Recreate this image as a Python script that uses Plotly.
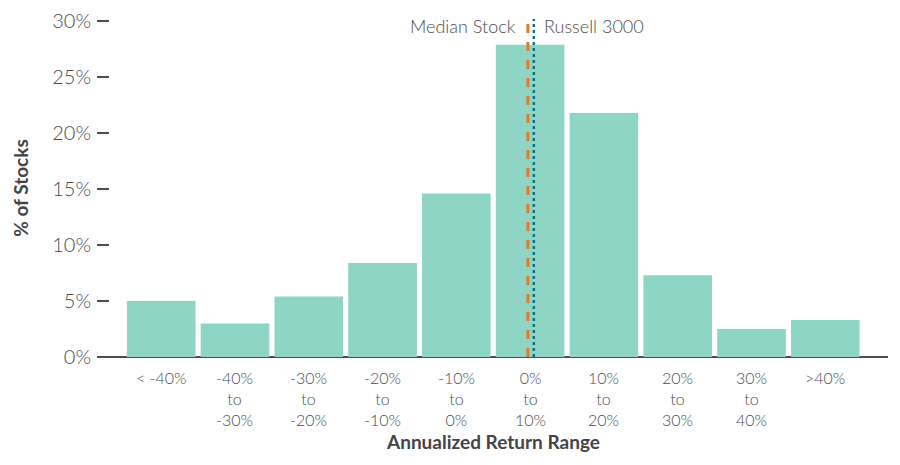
import plotly.graph_objects as go

# return buckets and share of stocks in each (%)
categories = ["< -40%", "-40%<br>to<br>-30%", "-30%<br>to<br>-20%", "-20%<br>to<br>-10%",
              "-10%<br>to<br>0%", "0%<br>to<br>10%", "10%<br>to<br>20%", "20%<br>to<br>30%",
              "30%<br>to<br>40%", ">40%"]
pct_stocks = [5.0, 3.0, 5.4, 8.4, 14.6, 27.9, 21.8, 7.3, 2.5, 3.3]

# marker positions on the category axis
median_stock_x = 4.97
russell_x = 5.05

y_ticks = [0, 5, 10, 15, 20, 25, 30]
y_ticktext = [f"{v}%" for v in y_ticks]

grey = "#4b4b4d"
dark = "#444446"
font_family = "Lato"

fig = go.Figure()

fig.add_trace(go.Bar(
    x=list(range(len(categories))),
    y=pct_stocks,
    marker_color="#8fd5c6",
    marker_line_width=0,
    hoverinfo="y"
))

# median stock and index lines
fig.add_shape(type="line", x0=median_stock_x, x1=median_stock_x, y0=0, y1=30.2,
              line=dict(color="#e07a2c", width=3, dash="dash"))
fig.add_shape(type="line", x0=russell_x, x1=russell_x, y0=0, y1=30.2,
              line=dict(color="#17707f", width=2.5, dash="dot"))

fig.add_annotation(x=median_stock_x, y=29.6, text="Median Stock", showarrow=False,
                   xanchor="right", xshift=-10, font=dict(size=18, color=grey, family=font_family, weight=300))
fig.add_annotation(x=russell_x, y=29.6, text="Russell 3000", showarrow=False,
                   xanchor="left", xshift=8, font=dict(size=18, color=grey, family=font_family, weight=300))

# x tick labels as annotations (closer control over position)
for i, label in enumerate(categories):
    fig.add_annotation(x=i, xref="x", y=0, yref="paper", yanchor="top",
                       yshift=-9, text=label, showarrow=False,
                       font=dict(size=16, color=grey, family=font_family, weight=300))

fig.add_annotation(x=0.5, xref="paper", y=0, yref="paper", yanchor="middle", yshift=-84,
                   text="<b>Annualized Return Range</b>", showarrow=False,
                   font=dict(size=19, color=dark, family=font_family))

# page has an 8px body offset, margins account for it
fig.update_layout(
    width=900,
    height=465,
    margin=dict(l=89, r=20, t=11, b=116),
    plot_bgcolor="white",
    paper_bgcolor="white",
    bargap=0.07,
    showlegend=False,
    font=dict(family=font_family, color=grey),
    xaxis=dict(
        range=[-0.87, 9.85],
        showticklabels=False,
        showgrid=False,
        zeroline=False,
        showline=False,
        ticks="",
        automargin=False
    ),
    yaxis=dict(
        range=[0, 30.2],
        tickvals=y_ticks,
        ticktext=y_ticktext,
        tickfont=dict(size=20, color=grey, weight=300),
        ticks="inside",
        ticklen=12,
        tickwidth=1.5,
        tickcolor=grey,
        ticklabelstandoff=5,
        showgrid=False,
        zeroline=True,
        zerolinecolor="#4d4d4f",
        zerolinewidth=2,
        showline=False,
        automargin=False,
        title=dict(text="<b>% of Stocks</b>", font=dict(size=19, color=dark), standoff=18)
    )
)

fig.write_html("out.html")
